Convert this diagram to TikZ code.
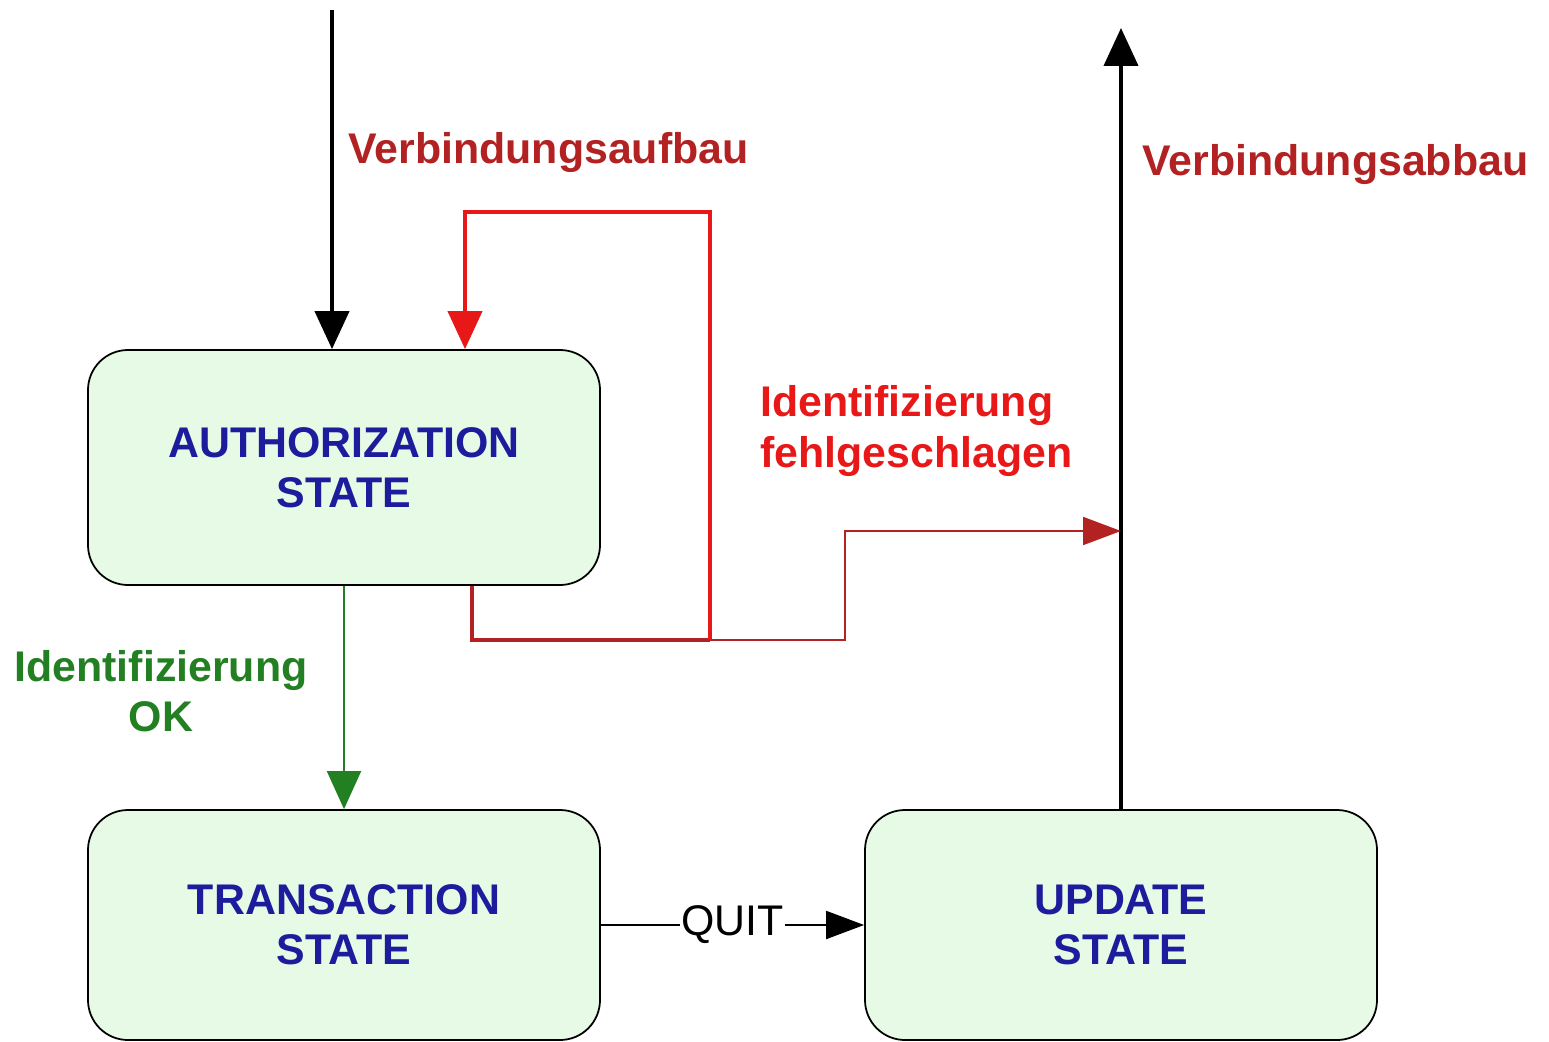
\documentclass[tikz,border=0pt]{standalone}
\usepackage{fontspec}
\setmainfont{Liberation Sans}
\usetikzlibrary{arrows.meta,calc}

\definecolor{boxfill}{RGB}{230,250,230}
\definecolor{navy}{RGB}{28,28,156}
\definecolor{darkred}{RGB}{178,34,34}
\definecolor{brightred}{RGB}{232,24,24}
\definecolor{okgreen}{RGB}{34,128,34}

\begin{document}
\begin{tikzpicture}[x=0.2mm,y=-0.2mm,
  statebox/.style={draw,line width=1pt,fill=boxfill,rounded corners=8mm,
    minimum width=102.4mm,minimum height=46mm,align=center,text=navy,
    font=\bfseries\fontsize{24.4}{28.5}\selectfont},
  lbl/.style={inner sep=0pt,font=\bfseries\fontsize{24.4}{28.5}\selectfont},
  bighead/.style={-{Triangle[length=7.6mm,width=6.8mm]}},
  smallhead/.style={-{Triangle[length=7.6mm,width=5.6mm]}}]

  \useasboundingbox (0,0) rectangle (1549,1042);

  % states
  \node [statebox,minimum height=47mm] (auth) at (344,467.5) {AUTHORIZATION\\STATE};
  \node [statebox] (trans) at (344,925) {TRANSACTION\\STATE};
  \node [statebox] (update) at (1121,925) {UPDATE\\STATE};

  \coordinate (in) at (332,10);
  \coordinate (out) at (1121,28);
  \coordinate (fork) at (710,640);
  \coordinate (hit) at (1121,531);

  % connection setup / release
  \draw [bighead,line width=2.3pt] (in) -- (in |- auth.north);
  \draw [bighead,line width=2.3pt] (update.north) -- (out);

  % failed identification
  \draw [line width=2.3pt,darkred] ($(auth.south)+(128,0)$) |- (fork);
  \draw [bighead,line width=2.3pt,brightred] (fork) -- ++(0,-428) -| ($(auth.north)+(121,0)$);
  \draw [smallhead,line width=1.1pt,darkred] (fork) -- ++(135,0) |- (hit);

  % identification ok
  \draw [bighead,line width=1.1pt,okgreen] (auth.south) -- (trans.north);

  % quit
  \draw [smallhead,line width=1.1pt] (trans.east) -- node [fill=white,inner sep=1pt,font=\fontsize{24.4}{28.5}\selectfont] {QUIT} (update.west);

  \node [lbl,darkred,anchor=west] (setup) at (348,153) {Verbindungsaufbau};
  \node [lbl,darkred,anchor=west] (release) at (1142,165) {Verbindungsabbau};
  \node [lbl,brightred,anchor=west,align=left] (fail) at (760,431) {Identifizierung\\fehlgeschlagen};
  \node [lbl,okgreen,align=center] (ok) at (161,691) {Identifizierung\\OK};

\end{tikzpicture}
\end{document}
